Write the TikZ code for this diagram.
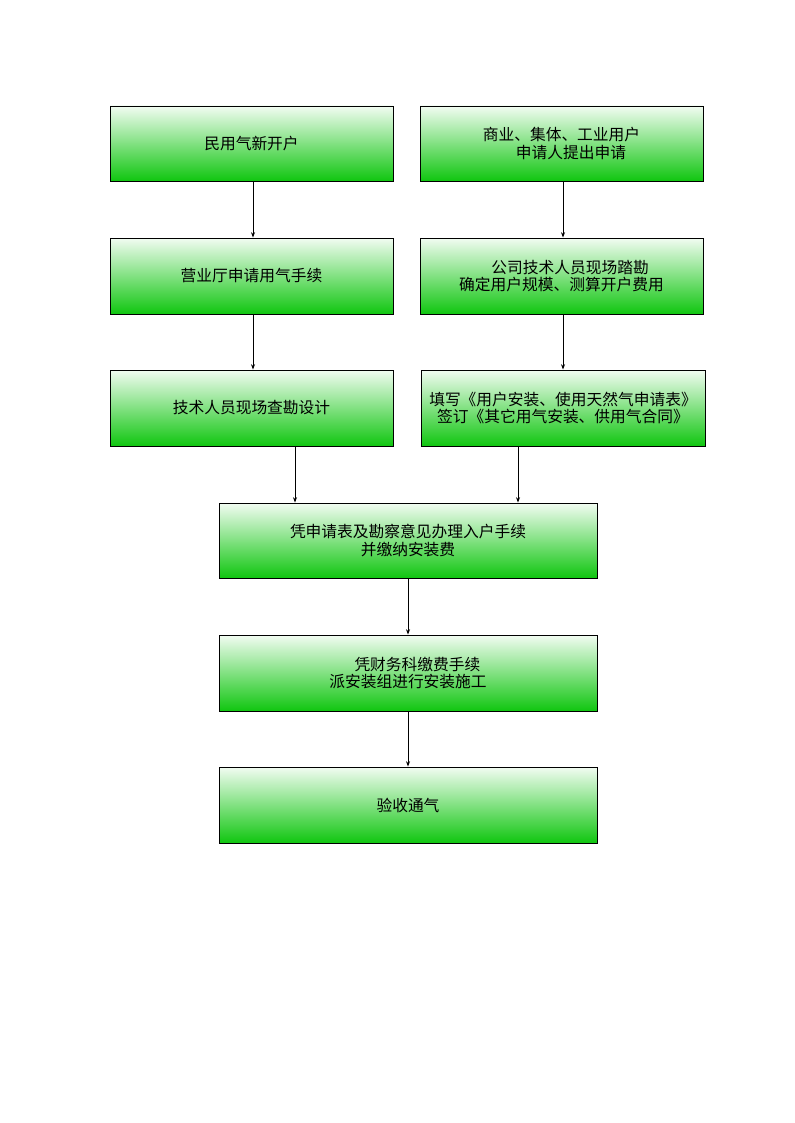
\documentclass[tikz,border=0pt]{standalone}
\usepackage{fontspec}
\newfontfamily\cjk{Noto Sans CJK SC}
\usetikzlibrary{arrows.meta}
\definecolor{gtop}{RGB}{242,252,242}
\definecolor{gbot}{RGB}{16,198,16}
\tikzset{
  px/.style={x=0.75pt,y=-0.75pt},
  flowbox/.style={draw=black,line width=0.7pt,top color=gtop,bottom color=gbot,
    font=\cjk\fontsize{11.8pt}{13pt}\selectfont,align=center,inner sep=0pt},
  flowarrow/.style={draw=black,line width=0.6pt,-{Stealth[length=4pt,width=3pt]}}
}
\begin{document}
\begin{tikzpicture}[px]
\useasboundingbox (0,0) rectangle (794,1123);
\fill[white] (0,0) rectangle (794,1123);
\node[flowbox,minimum width=283*0.75pt,minimum height=75*0.75pt] (b1) at (251.5,143.5) {民用气新开户};
\node[flowbox,minimum width=283*0.75pt,minimum height=75*0.75pt] (b2) at (561.5,143.5) {商业、集体、工业用户\\\hspace*{1.2em}申请人提出申请};
\node[flowbox,minimum width=283*0.75pt,minimum height=76*0.75pt] (b3) at (251.5,276) {营业厅申请用气手续};
\node[flowbox,minimum width=283*0.75pt,minimum height=76*0.75pt] (b4) at (561.5,276) {\hspace*{1.1em}公司技术人员现场踏勘\\确定用户规模、测算开户费用};
\node[flowbox,minimum width=283*0.75pt,minimum height=76*0.75pt] (b5) at (251.5,408) {技术人员现场查勘设计};
\node[flowbox,minimum width=284*0.75pt,minimum height=76*0.75pt] (b6) at (563,408) {填写《用户安装、使用天然气申请表》\\签订《其它用气安装、供用气合同》};
\node[flowbox,minimum width=378*0.75pt,minimum height=75*0.75pt] (b7) at (408,540.5) {凭申请表及勘察意见办理入户手续\\并缴纳安装费};
\node[flowbox,minimum width=378*0.75pt,minimum height=76*0.75pt] (b8) at (408,673) {\hspace*{1.2em}凭财务科缴费手续\\派安装组进行安装施工};
\node[flowbox,minimum width=378*0.75pt,minimum height=76*0.75pt] (b9) at (408,805) {验收通气};
% arrows
\draw[flowarrow] (b1.south -| 253,0) -- (b3.north -| 253,0);
\draw[flowarrow] (b2.south -| 563,0) -- (b4.north -| 563,0);
\draw[flowarrow] (b3.south -| 253,0) -- (b5.north -| 253,0);
\draw[flowarrow] (b4.south -| 563,0) -- (b6.north -| 563,0);
\draw[flowarrow] (b5.south -| 295,0) -- (b7.north -| 295,0);
\draw[flowarrow] (b6.south -| 518,0) -- (b7.north -| 518,0);
\draw[flowarrow] (b7.south) -- (b8.north);
\draw[flowarrow] (b8.south) -- (b9.north);
\end{tikzpicture}
\end{document}
